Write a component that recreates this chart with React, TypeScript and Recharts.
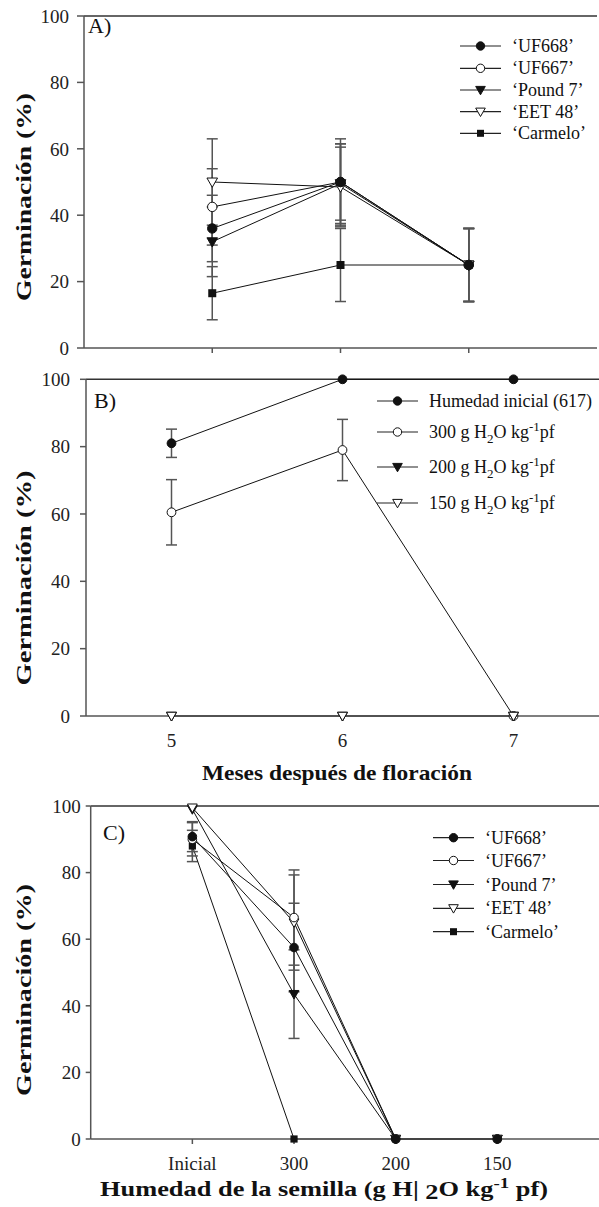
import React from 'react';
import { LineChart, Line, XAxis, YAxis, ErrorBar, ReferenceLine } from 'recharts';

const SERIF = '"Liberation Serif", "Times New Roman", Times, serif';
const AXIS = '#555';
const INK = '#111';

// ---------- Panel A: meses después de floración ----------
const monthsA = [5, 6, 7];
const uf668A = [36, 50, 25];
const uf668AErr = [10, 13, 11];
const uf667A = [42.5, 50, 25];
const uf667AErr = [11.5, 11.5, 11];
const pound7A = [32, 49.5, 25];
const pound7AErr = [10.5, 12, 11];
const eet48A = [50, 48.5, 25];
const eet48AErr = [13, 12, 11];
const carmeloA = [16.5, 25, 25];
const carmeloAErr = [8, 11, 11];

// ---------- Panel B: humedad de la semilla vs meses ----------
const monthsB = [5, 6, 7];
const inicialB = [81, 100, 100];
const inicialBErr = [4.2, 0, 0];
const h300B = [60.5, 79, 0];
const h300BErr = [9.7, 9.1, 0];
const h200B = [0, 0, 0];
const h150B = [0, 0, 0];

// ---------- Panel C: humedad de la semilla ----------
const humedadC = ['Inicial', '300', '200', '150'];
const uf668C = [90.8, 57.5, 0, 0];
const uf668CErr = [4.5, 13.3, 0, 0];
const uf667C = [90, 66.5, 0, 0];
const uf667CErr = [5, 14.3, 0, 0];
const pound7C = [99, 43.5, 0, 0];
const pound7CErr = [0, 13.3, 0, 0];
const eet48C = [99.5, 65, 0, 0];
const eet48CErr = [0, 14.3, 0, 0];
const carmeloC = [88, 0, 0, 0];
const carmeloCErr = [4.7, 0, 0, 0];

const yTicks = [0, 20, 40, 60, 80, 100];

type Shape = 'circle' | 'openCircle' | 'tri' | 'openTri' | 'square';
type Series = { key: string; name: string; shape: Shape; values: number[]; errors?: number[] };

// drawing order: last one ends on top
const seriesA: Series[] = [
  { key: 'carmelo', name: '‘Carmelo’', shape: 'square', values: carmeloA, errors: carmeloAErr },
  { key: 'pound7', name: '‘Pound 7’', shape: 'tri', values: pound7A, errors: pound7AErr },
  { key: 'eet48', name: '‘EET 48’', shape: 'openTri', values: eet48A, errors: eet48AErr },
  { key: 'uf667', name: '‘UF667’', shape: 'openCircle', values: uf667A, errors: uf667AErr },
  { key: 'uf668', name: '‘UF668’', shape: 'circle', values: uf668A, errors: uf668AErr },
];

const seriesB: Series[] = [
  { key: 'inicial', name: 'Humedad inicial (617)', shape: 'circle', values: inicialB, errors: inicialBErr },
  { key: 'h300', name: '300', shape: 'openCircle', values: h300B, errors: h300BErr },
  { key: 'h200', name: '200', shape: 'tri', values: h200B },
  { key: 'h150', name: '150', shape: 'openTri', values: h150B },
];

const seriesC: Series[] = [
  { key: 'carmelo', name: '‘Carmelo’', shape: 'square', values: carmeloC, errors: carmeloCErr },
  { key: 'pound7', name: '‘Pound 7’', shape: 'tri', values: pound7C, errors: pound7CErr },
  { key: 'eet48', name: '‘EET 48’', shape: 'openTri', values: eet48C, errors: eet48CErr },
  { key: 'uf667', name: '‘UF667’', shape: 'openCircle', values: uf667C, errors: uf667CErr },
  { key: 'uf668', name: '‘UF668’', shape: 'circle', values: uf668C, errors: uf668CErr },
];

const legendCultivars = ['uf668', 'uf667', 'pound7', 'eet48', 'carmelo'];

function buildRows(xs: number[], series: Series[]) {
  return xs.map((x, i) => {
    const row: any = { x };
    series.forEach((s) => {
      row[s.key] = s.values[i];
      row[s.key + 'Err'] = s.errors ? s.errors[i] : 0;
    });
    return row;
  });
}

const dataA = buildRows(monthsA, seriesA);
const dataB = buildRows(monthsB, seriesB);
const dataC = buildRows(humedadC.map((_, i) => i + 1), seriesC);

function Marker({ shape, cx, cy, s = 4.7 }: { shape: Shape; cx: number; cy: number; s?: number }) {
  const fill = shape === 'openCircle' || shape === 'openTri' ? '#fff' : INK;
  if (shape === 'circle' || shape === 'openCircle') {
    return <circle cx={cx} cy={cy} r={s} fill={fill} stroke={INK} strokeWidth={1} />;
  }
  if (shape === 'square') {
    return <rect x={cx - s + 0.7} y={cy - s + 0.7} width={(s - 0.7) * 2} height={(s - 0.7) * 2} fill={INK} />;
  }
  const h = s + 0.6;
  return (
    <path
      d={`M${cx - h},${cy - h * 0.75}L${cx + h},${cy - h * 0.75}L${cx},${cy + h}Z`}
      fill={fill}
      stroke={INK}
      strokeWidth={1}
    />
  );
}

const renderDot = (shape: Shape, s: number) => (props: any) => {
  const { cx, cy, index } = props;
  if (cx == null || cy == null) return <g key={`d-${index}`} />;
  return (
    <g key={`d-${shape}-${index}`}>
      <Marker shape={shape} cx={cx} cy={cy} s={s} />
    </g>
  );
};

const axisLine = { stroke: AXIS, strokeWidth: 1.5 };
const tickStyle = { fill: '#222', fontSize: 19, fontFamily: SERIF };

function seriesLines(series: Series[], s: number) {
  return series.map((sr) => (
    <Line
      key={sr.key}
      dataKey={sr.key}
      stroke={INK}
      strokeWidth={1}
      dot={renderDot(sr.shape, s)}
      activeDot={false}
      isAnimationActive={false}
    >
      {sr.errors && (
        <ErrorBar dataKey={sr.key + 'Err'} direction="y" width={5.5} stroke={AXIS} strokeWidth={1.5} />
      )}
    </Line>
  ));
}

function LegendRow({ x, y, shape, children }: { x: number; y: number; shape: Shape; children: React.ReactNode }) {
  return (
    <g>
      <line x1={x} x2={x + 41} y1={y} y2={y} stroke="#222" strokeWidth={1.2} />
      <Marker shape={shape} cx={x + 20.5} cy={y} s={4.2} />
      <text x={x + 52} y={y + 6} fontSize={18} fontFamily={SERIF} fill="#111">
        {children}
      </text>
    </g>
  );
}

function Moisture({ v }: { v: string }) {
  return (
    <>
      {v} g H
      <tspan fontSize={13} dy={5}>2</tspan>
      <tspan dy={-5}>O kg</tspan>
      <tspan fontSize={13} dy={-7}>-1</tspan>
      <tspan dy={7}>pf</tspan>
    </>
  );
}

export default function App() {
  const legendA = [46, 68.3, 90, 111.7, 133.3];
  const legendB = [401, 432, 467, 503];
  const legendC = [837.7, 860.5, 884.5, 908.3, 931.7];
  const byKeyA = Object.fromEntries(seriesA.map((s) => [s.key, s]));

  return (
    <div style={{ position: 'absolute', left: 0, top: 0, width: 599, height: 1207, background: '#fff', fontFamily: SERIF }}>
      {/* A */}
      <div style={{ position: 'absolute', left: 0, top: 0 }}>
        <LineChart width={599} height={360} data={dataA} margin={{ top: 16, right: 2, bottom: 0, left: 0 }}>
          <XAxis dataKey="x" type="number" domain={[4, 8]} ticks={monthsA} tickFormatter={() => ''}
            height={12} tickSize={5} axisLine={axisLine} tickLine={axisLine} />
          <YAxis type="number" domain={[0, 100]} ticks={yTicks} width={84} tickSize={7} tickMargin={8}
            tick={tickStyle} axisLine={axisLine} tickLine={axisLine} />
          <ReferenceLine y={100} stroke="#333" strokeWidth={1.5} />
          {seriesLines(seriesA, 4.7)}
        </LineChart>
      </div>

      {/* B */}
      <div style={{ position: 'absolute', left: 0, top: 360 }}>
        <LineChart width={599} height={396} data={dataB} margin={{ top: 19.3, right: 0, bottom: 0, left: 0 }}>
          <XAxis dataKey="x" type="number" domain={[4.5, 7.5]} ticks={monthsB} height={40}
            tickSize={5} tickMargin={13} tick={tickStyle} axisLine={axisLine} tickLine={axisLine} />
          <YAxis type="number" domain={[0, 100]} ticks={yTicks} width={86} tickSize={6} tickMargin={10}
            tick={tickStyle} axisLine={axisLine} tickLine={axisLine} />
          <ReferenceLine y={100} stroke="#333" strokeWidth={1.5} />
          {seriesLines(seriesB, 4.4)}
        </LineChart>
      </div>

      {/* C */}
      <div style={{ position: 'absolute', left: 0, top: 790 }}>
        <LineChart width={599} height={389} data={dataC} margin={{ top: 16, right: 0, bottom: 0, left: 0 }}>
          <XAxis dataKey="x" type="number" domain={[0, 5]} ticks={[1, 2, 3, 4]} height={40}
            tickFormatter={(v: number) => humedadC[v - 1] ?? ''}
            tickSize={5} tickMargin={13} tick={tickStyle} axisLine={axisLine} tickLine={axisLine} />
          <YAxis type="number" domain={[0, 100]} ticks={yTicks} width={90.7} tickSize={5} tickMargin={5}
            tick={tickStyle} axisLine={axisLine} tickLine={axisLine} />
          <ReferenceLine y={100} stroke="#333" strokeWidth={1.5} />
          {seriesLines(seriesC, 4.3)}
        </LineChart>
      </div>

      {/* titles, panel letters, legends */}
      <svg width={599} height={1207} style={{ position: 'absolute', left: 0, top: 0, pointerEvents: 'none' }}>
        <g fontFamily={SERIF} fontWeight="bold" fill="#111" fontSize={21}>
          <text transform="translate(31,197) rotate(-90)" textAnchor="middle" textLength={208} lengthAdjust="spacingAndGlyphs">Germinación (%)</text>
          <text transform="translate(31,578) rotate(-90)" textAnchor="middle" textLength={215} lengthAdjust="spacingAndGlyphs">Germinación (%)</text>
          <text transform="translate(31,990) rotate(-90)" textAnchor="middle" textLength={212} lengthAdjust="spacingAndGlyphs">Germinación (%)</text>
          <text x={337} y={780} textAnchor="middle" textLength={270} lengthAdjust="spacingAndGlyphs">Meses después de floración</text>
          <text x={100} y={1196} fontSize={21} textLength={448} lengthAdjust="spacingAndGlyphs">
            Humedad de la semilla (g H|{' '}
            <tspan dy={3}>2</tspan>
            <tspan dy={-3}>O kg</tspan>
            <tspan fontSize={15} dy={-8}>-1</tspan>
            <tspan dy={8}> pf)</tspan>
          </text>
        </g>
        <g fontFamily={SERIF} fill="#111" fontSize={22}>
          <text x={88} y={33}>A)</text>
          <text x={94} y={408}>B)</text>
          <text x={103} y={840}>C)</text>
        </g>

        {legendCultivars.map((k, i) => (
          <LegendRow key={'la' + k} x={460} y={legendA[i]} shape={byKeyA[k].shape}>{byKeyA[k].name}</LegendRow>
        ))}
        <LegendRow x={377} y={legendB[0]} shape="circle">Humedad inicial (617)</LegendRow>
        <LegendRow x={377} y={legendB[1]} shape="openCircle"><Moisture v="300" /></LegendRow>
        <LegendRow x={377} y={legendB[2]} shape="tri"><Moisture v="200" /></LegendRow>
        <LegendRow x={377} y={legendB[3]} shape="openTri"><Moisture v="150" /></LegendRow>
        {legendCultivars.map((k, i) => (
          <LegendRow key={'lc' + k} x={433} y={legendC[i]} shape={byKeyA[k].shape}>{byKeyA[k].name}</LegendRow>
        ))}
      </svg>
    </div>
  );
}
